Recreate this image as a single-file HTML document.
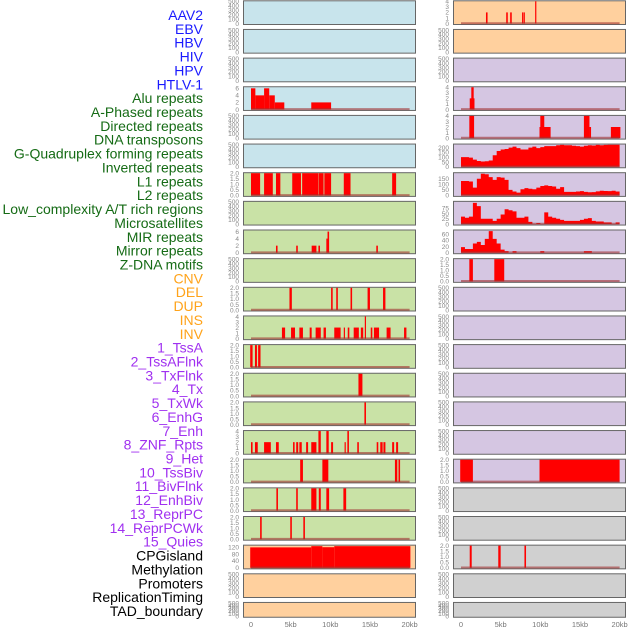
<!DOCTYPE html>
<html><head><meta charset="utf-8">
<style>
body{margin:0;background:#fff;width:630px;height:630px;overflow:hidden}
svg{display:block}
text{font-family:"Liberation Sans",sans-serif}
</style></head>
<body>
<svg id="chart" width="630" height="630"></svg>
<script>
// ---- labels ----
const labelNames=["AAV2","EBV","HBV","HIV","HPV","HTLV-1","Alu repeats","A-Phased repeats","Directed repeats","DNA transposons","G-Quadruplex forming repeats","Inverted repeats","L1 repeats","L2 repeats","Low_complexity A/T rich regions","Microsatellites","MIR repeats","Mirror repeats","Z-DNA motifs","CNV","DEL","DUP","INS","INV","1_TssA","2_TssAFlnk","3_TxFlnk","4_Tx","5_TxWk","6_EnhG","7_Enh","8_ZNF_Rpts","9_Het","10_TssBiv","11_BivFlnk","12_EnhBiv","13_ReprPC","14_ReprPCWk","15_Quies","CPGisland","Methylation","Promoters","ReplicationTiming","TAD_boundary"];
const labelGroups=[6,13,5,15,5];
const groupColors=["#1a1aff","#156b15","#ffa31a","#a030f0","#000000"];
const xTickValues=[0,5,10,15,20];
const xTickLabels=["0","5kb","10kb","15kb","20kb"];
const emptyTicks=[0,100,200,300,400,500];

// ---- interval data [startKb,endKb,value] ----
const leftAlu=[[0,0.55,6],[0.55,1.65,4],[1.65,2.3,6],[2.3,3.0,4],[3.0,4.2,2],[7.6,10.1,2]];
const leftL1=[[0,1.15,2],[1.65,2.75,2],[3.15,3.7,2],[5.2,6.3,2],[6.45,8.5,2],[8.55,9.15,2],[9.25,10.1,2],[11.7,12.55,2],[17.8,18.3,2]];
const leftRow9=[[3.15,3.35,2],[5.7,5.9,2],[7.65,8.25,2],[8.5,8.7,2],[9.5,9.65,4],[9.65,9.85,6],[15.8,16.0,2]];
const leftRow11=[[4.85,5.15,2],[10.1,10.3,2],[10.75,10.95,2],[12.55,12.75,2],[14.7,15.0,2],[16.65,16.95,2]];
const leftRow12=[[3.9,4.3,2],[5.05,5.55,2],[6.1,6.55,2],[7.4,7.65,2],[8.15,8.8,2],[9.15,9.45,2],[10.5,11.3,2],[11.7,11.85,2],[12.2,12.4,2],[12.95,13.6,2],[13.85,14.15,2],[14.35,14.5,4],[15.1,15.3,2],[15.5,16.15,2],[17.1,17.6,2],[19.3,19.6,2]];
const leftRow13=[[-0.1,0.2,2],[0.5,0.75,2],[0.9,1.2,2]];
const leftRow14=[[13.55,14.05,2]];
const leftRow15=[[14.3,14.5,2]];
const leftRow16=[[0,0.2,2],[0.5,0.85,2],[1.65,2.5,2],[3.15,3.5,2],[5.3,5.5,2],[5.7,5.95,2],[6.1,6.4,2],[6.95,7.2,2],[7.6,8.25,2],[8.5,8.8,4],[9.5,9.8,4],[10.1,10.35,2],[11.8,11.95,2],[12.15,12.35,4],[13.4,13.6,2],[15.85,16.05,2],[16.3,16.6,2],[16.7,16.95,2],[17.8,18.05,2],[18.3,18.55,2]];
const leftRow17=[[6.2,6.55,2],[9.0,9.75,2],[18.15,18.45,2],[18.6,18.8,2]];
const leftRow18=[[3.2,3.4,2],[5.7,5.9,2],[7.6,8.25,2],[8.55,8.8,2],[9.5,9.85,2],[11.65,12.0,2]];
const leftRow19=[[1.15,1.35,2],[4.95,5.15,2],[6.6,6.8,2]];
const leftCpg=[[-0.1,7.6,118],[7.6,9.0,125],[9.0,10.5,119],[10.5,20.1,125]];
const rightRow1=[[3.15,3.35,2],[5.7,5.9,2],[6.2,6.4,2],[7.7,7.85,2],[7.9,8.05,2],[9.35,9.5,4]];
const rightRow4=[[1.1,1.7,2],[1.3,1.6,4]];
const rightRow5=[[1.05,1.65,4],[9.9,11.3,2],[10.0,10.5,4],[15.5,16.2,4],[16.2,16.4,2],[18.9,20.1,2]];
const rightRow10=[[1.05,1.5,2],[4.2,5.45,2]];
const rightRow17=[[-0.1,1.5,2],[9.9,20.0,2]];
const rightRow20=[[1.1,1.35,2],[4.7,5.0,2],[8.0,8.2,2]];
// ---- binned profile data (0.5kb bins, 0..20kb) ----
const rightGquad=[100,100,95,75,60,55,58,65,120,165,180,185,200,210,195,180,180,200,210,195,205,215,215,215,225,228,225,225,220,215,210,220,225,222,228,225,228,230,230,230];
const rightInverted=[130,130,125,70,150,195,190,165,140,165,160,140,50,35,25,55,65,60,55,70,85,90,85,80,60,75,32,32,32,35,38,32,28,30,36,42,40,38,42,35];
const rightL2=[35,30,35,100,85,25,25,25,15,25,45,70,65,60,30,30,35,10,0,5,0,55,35,30,25,20,15,15,15,15,20,25,28,15,12,12,8,8,0,8];
const rightLowComp=[18,12,12,30,35,25,45,70,45,30,10,5,0,5,0,0,0,0,0,0,5,0,0,0,0,0,0,0,0,0,0,5,5,0,0,0,0,0,0,0];

const BG={blue:"#c8e4ec",green:"#c9e2a6",orange:"#ffd09e",purple:"#d5c6e2",gray:"#d0d0d0"};
// panel specs: [col,row,bg,ymax,ticks,data,kind]
const panels=[
 [0,0,"blue"],[0,1,"blue"],[0,2,"blue"],
 [0,3,"blue",6.3,[0,2,4,6],leftAlu,"iv"],
 [0,4,"blue"],[0,5,"blue"],
 [0,6,"green",2,[0,0.5,1,1.5,2],leftL1,"iv"],
 [0,7,"green"],
 [0,8,"green",6.3,[0,2,4,6],leftRow9,"iv"],
 [0,9,"green"],
 [0,10,"green",2,[0,0.5,1,1.5,2],leftRow11,"iv"],
 [0,11,"green",4,[0,1,2,3,4],leftRow12,"iv"],
 [0,12,"green",2,[0,0.5,1,1.5,2],leftRow13,"iv"],
 [0,13,"green",2,[0,0.5,1,1.5,2],leftRow14,"iv"],
 [0,14,"green",2,[0,0.5,1,1.5,2],leftRow15,"iv"],
 [0,15,"green",4,[0,1,2,3,4],leftRow16,"iv"],
 [0,16,"green",2,[0,0.5,1,1.5,2],leftRow17,"iv"],
 [0,17,"green",2,[0,0.5,1,1.5,2],leftRow18,"iv"],
 [0,18,"green",2,[0,0.5,1,1.5,2],leftRow19,"iv"],
 [0,19,"orange",128,[0,40,80,120],leftCpg,"iv"],
 [0,20,"orange"],[0,21,"orange"],
 [1,0,"orange",4,[0,1,2,3,4],rightRow1,"iv"],
 [1,1,"orange"],[1,2,"purple"],
 [1,3,"purple",4,[0,1,2,3,4],rightRow4,"iv"],
 [1,4,"purple",4,[0,1,2,3,4],rightRow5,"iv"],
 [1,5,"purple",232,[0,50,100,150,200],rightGquad,"bins"],
 [1,6,"purple",200,[0,50,100,150],rightInverted,"bins"],
 [1,7,"purple",105,[0,25,50,75],rightL2,"bins"],
 [1,8,"purple",72,[0,20,40,60],rightLowComp,"bins"],
 [1,9,"purple",2,[0,0.5,1,1.5,2],rightRow10,"iv"],
 [1,10,"purple"],[1,11,"purple"],[1,12,"purple"],[1,13,"purple"],[1,14,"purple"],[1,15,"purple"],
 [1,16,"purple",2,[0,0.5,1,1.5,2],rightRow17,"iv"],
 [1,17,"gray"],[1,18,"gray"],
 [1,19,"gray",2,[0,0.5,1,1.5,2],rightRow20,"iv"],
 [1,20,"gray"],[1,21,"gray"]
];

const NS="http://www.w3.org/2000/svg";
const svg=document.getElementById("chart");
function mk(tag,attrs,parent){const e=document.createElementNS(NS,tag);for(const k in attrs)e.setAttribute(k,attrs[k]);(parent||svg).appendChild(e);return e;}

// labels
let li=0;
labelGroups.forEach((n,g)=>{for(let j=0;j<n;j++){
  const t=mk("text",{x:203,y:15+li*13.86+5,"text-anchor":"end","font-size":"14",fill:groupColors[g]});
  t.textContent=labelNames[li];
  
  
  li++;}});

const colX=[243,453], PW=173, PITCH=28.65;
function xScale(col,kb){return colX[col]+8+kb*7.93;}

panels.forEach(p=>{
  const [col,row,bg]=p;
  const top=0.3+row*PITCH, h=(row===21)?15.8:24.7;
  const g=mk("g",{});
  
  
  mk("rect",{x:colX[col]+0.5,y:top+0.5,width:PW-1,height:h-1,fill:BG[bg],stroke:"#666","stroke-width":1},g);
  const base=top+h-1.5, usable=h-2.5;
  const ymax=p[3]||500, ticks=p[4]||emptyTicks;
  const yS=v=>base-Math.max(0,Math.min(v,ymax))/ymax*usable;
  ticks.forEach(v=>{
    const t=mk("text",{x:colX[col]-4,y:yS(v)+2.3,"text-anchor":"end","font-size":"6.5",fill:"#888"},g);
    t.textContent=(ticks[1]===0.5)?v.toFixed(1):String(v);
    
    
  });
  if(!p[5])return;
  const data=p[5];
  if(p[6]==="iv"){
    data.forEach(d=>{
      const x1=xScale(col,d[0]),x2=xScale(col,d[1]);
      const r=mk("rect",{x:x1,y:yS(d[2]),width:Math.max(1.2,x2-x1),height:base-yS(d[2]),fill:"#ff0000"},g);
      
      
    });
  } else {
    let dstr="M"+xScale(col,0)+","+base;
    data.forEach((v,i)=>{dstr+=" L"+xScale(col,i*0.5)+","+yS(v)+" L"+xScale(col,(i+1)*0.5)+","+yS(v);});
    dstr+=" L"+xScale(col,data.length*0.5)+","+base+" Z";
    const pa=mk("path",{d:dstr,fill:"#ff0000"},g);
    
    
  }
  const bl=mk("line",{x1:xScale(col,0),x2:xScale(col,20),y1:base-0.3,y2:base-0.3,stroke:"rgba(160,50,50,0.6)","stroke-width":2},g);
  
  
});

// x axes
[0,1].forEach(col=>{
  xTickValues.forEach((v,i)=>{
    const t=mk("text",{x:xScale(col,v),y:627,"text-anchor":"middle","font-size":"7.5",fill:"#777"});
    t.textContent=xTickLabels[i];
    
    
  });
});
</script>
</body></html>
